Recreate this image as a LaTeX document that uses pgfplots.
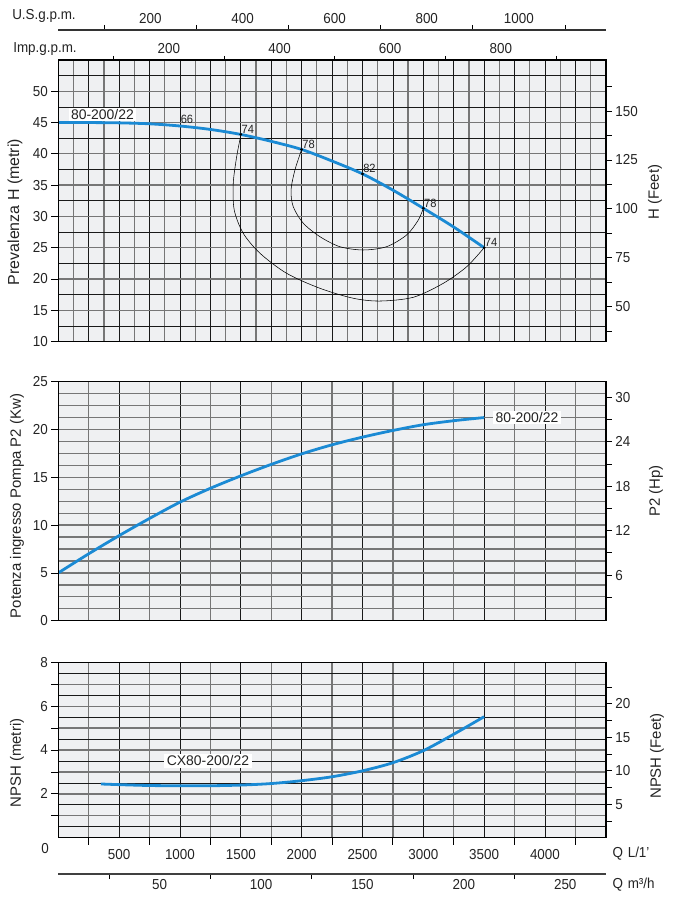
\documentclass[border=0pt]{standalone}
\usepackage{fontspec}
\setmainfont{Liberation Sans}
\newfontfamily\tickfont[FakeStretch=0.93]{Liberation Sans}
\usepackage{pgfplots}
\pgfplotsset{compat=1.18}
\definecolor{bgc}{RGB}{239,240,242}
\definecolor{curvec}{RGB}{27,138,212}
\definecolor{gdark}{RGB}{25,25,25}
\definecolor{glight}{RGB}{118,118,118}
\definecolor{txt}{RGB}{35,35,35}
\newcommand\tfont{\tickfont\fontsize{14.5}{14.5}\selectfont}
\newcommand\efont{\tickfont\fontsize{12}{12}\selectfont}
\newcommand\lfont{\fontsize{15}{15}\selectfont}
\tikzset{
  clab/.style={fill=white, inner xsep=2.5bp, inner ysep=1.5bp, text=txt, font=\fontsize{14}{14}\selectfont},
  elab/.style={anchor=south west, inner sep=0.6bp, text=txt, font=\efont},
}
\pgfplotsset{
  common/.style={scale only axis, width=547.5bp, xmin=0, xmax=4500},
  xgridax/.style={common, axis background/.style={fill=bgc},
    axis line style={draw=none},
    xticklabels={}, ytick=\empty,
    major tick length=0pt, minor tick length=0pt,
    xmajorgrids, xminorgrids,
    major grid style={gdark, line width=0.7bp},
    minor grid style={glight, line width=1.3bp}},
  ygridax/.style={common, axis line style={draw=none},
    yticklabels={}, xtick=\empty,
    major tick length=0pt, minor tick length=0pt,
    ymajorgrids, yminorgrids,
    major grid style={gdark, line width=0.7bp},
    minor grid style={glight, line width=1.3bp}},
  dataax/.style={common, xtick=\empty, ytick=\empty,
    axis line style={line width=1.4bp, black}},
  tickax/.style={scale only axis, width=547.5bp,
    tick align=outside, major tick length=7bp, minor tick length=7bp,
    tick style={black, line width=0.8bp},
    axis line style={line width=1.4bp, black},
    ticklabel style={font=\tfont, text=txt},
    /pgf/number format/assume math mode=true,
    /pgf/number format/1000 sep={},
    scaled ticks=false,
  },
  cur/.style={curvec, line width=2.8bp, smooth},
  iso/.style={black, line width=0.55bp, smooth},
}
\begin{document}
\begin{tikzpicture}
\useasboundingbox (0,0) rectangle (676bp,-900bp);

% ================= top panel: head =================
\begin{axis}[xgridax, at={(58.3bp,-60bp)}, anchor=north west, height=281.5bp,
  ymin=10, ymax=55, xtick={0,250,...,4500}, minor xtick={125,375,...,4375}]
\end{axis}
\begin{axis}[ygridax, at={(58.3bp,-60bp)}, anchor=north west, height=281.5bp,
  ymin=10, ymax=55, ytick={12.5,17.5,...,52.5}, minor ytick={10,15,...,55}]
\end{axis}
\begin{axis}[dataax, at={(58.3bp,-60bp)}, anchor=north west, height=281.5bp,
  ymin=10, ymax=55]
\addplot[iso] coordinates {(1502,43.13)(1466,39.54)(1438,35.29)(1446,31.02)(1520,27.30)(1658,24.10)(1877,20.90)(2151,18.50)(2425,16.91)(2644,16.47)(2918,17.07)(3164,19.30)(3357,21.96)(3500,25.0)};
\addplot[iso] coordinates {(2000,40.7)(1945,37.42)(1913,34.22)(1931,31.55)(2014,28.90)(2151,26.75)(2315,25.15)(2507,24.63)(2699,25.16)(2863,27.03)(2959,29.42)(3000,31.3)};
\addplot[cur] coordinates {(0,45)(250,45)(500,44.95)(750,44.8)(1000,44.45)(1250,43.9)(1500,43.1)(1750,42.0)(2000,40.7)(2250,38.85)(2500,36.8)(2750,34.2)(3000,31.3)(3250,28.3)(3500,25.0)};
\addplot[only marks, mark=*, mark size=1.2bp, black] coordinates {(1500,43.1)(2000,40.7)(2500,36.8)(3000,31.3)(3500,25.0)};
\node[elab] at (axis cs:1500,43.1) {74};
\node[elab] at (axis cs:2000,40.7) {78};
\node[elab] at (axis cs:2500,36.8) {82};
\node[elab] at (axis cs:3000,31.3) {78};
\node[elab] at (axis cs:3500,25.0) {74};
\node[elab, yshift=2bp] at (axis cs:1000,44.45) {66};
\node[clab] at (axis cs:363,46.25) {80-200/22};
\end{axis}

\begin{axis}[tickax, at={(58.3bp,-60bp)}, anchor=north west, height=281.5bp,
  xmin=0, xmax=1, ymin=10, ymax=55, axis x line=none, axis y line*=left,
  ytick={10,15,...,50}]
\end{axis}
\begin{axis}[tickax, at={(58.3bp,-60bp)}, anchor=north west, height=281.5bp,
  xmin=0, xmax=1, ymin=32.2, ymax=176.1, axis x line=none, axis y line*=right,
  ytick={50,75,...,150}, minor ytick={37.5,62.5,...,162.5},
  major tick length=6bp, minor tick length=6bp]
\end{axis}
% Imp.g.p.m.
\begin{axis}[tickax, at={(58.3bp,-60bp)}, anchor=north west, height=281.5bp,
  xmin=0, xmax=989.86, ymin=0, ymax=1, axis y line=none, axis x line*=top,
  xtick={200,400,600,800}, minor xtick={100,300,500,700,900},
  major tick length=0pt, minor tick length=4bp,
  xticklabel style={yshift=3bp}]
\end{axis}
% U.S.g.p.m.
\begin{axis}[tickax, at={(58.3bp,-30bp)}, anchor=north west, height=10bp,
  xmin=0, xmax=1188.77, ymin=0, ymax=1, axis y line=none, axis x line*=top,
  xtick={200,400,...,1000}, minor xtick={100,300,...,1100},
  major tick length=0pt, minor tick length=5bp,
  axis line style={line width=1.2bp, black!80},
  xticklabel style={yshift=3bp}]
\end{axis}

% ================= middle panel: power =================
\begin{axis}[xgridax, at={(58.3bp,-381.7bp)}, anchor=north west, height=239bp,
  ymin=0, ymax=25, xtick={0,500,...,4500}, minor xtick={250,750,...,4250}]
\end{axis}
\begin{axis}[ygridax, at={(58.3bp,-381.7bp)}, anchor=north west, height=239bp,
  ymin=0, ymax=25, ytick={0,1.25,...,25},
  major grid style={glight, line width=1.3bp}]
\end{axis}
\begin{axis}[dataax, at={(58.3bp,-381.7bp)}, anchor=north west, height=239bp,
  ymin=0, ymax=25]
\addplot[cur] coordinates {(0,5.0)(250,7.0)(500,8.9)(750,10.7)(1000,12.4)(1250,13.85)(1500,15.15)(1750,16.35)(2000,17.45)(2250,18.4)(2500,19.2)(2750,19.9)(3000,20.5)(3250,20.92)(3500,21.25)};
\node[clab] at (axis cs:3852,21.25) {80-200/22};
\end{axis}
\begin{axis}[tickax, at={(58.3bp,-381.7bp)}, anchor=north west, height=239bp,
  xmin=0, xmax=1, ymin=0, ymax=25, axis x line=none, axis y line*=left,
  ytick={0,5,...,25}]
\end{axis}
\begin{axis}[tickax, at={(58.3bp,-381.7bp)}, anchor=north west, height=239bp,
  xmin=0, xmax=1, ymin=-0.15, ymax=32.1, axis x line=none, axis y line*=right,
  ytick={6,12,...,30}, minor ytick={3,9,...,27},
  major tick length=6bp, minor tick length=6bp]
\end{axis}

% ================= bottom panel: NPSH =================
\begin{axis}[xgridax, at={(58.3bp,-662.3bp)}, anchor=north west, height=175.4bp,
  ymin=0, ymax=8, xtick={0,500,...,4500}, minor xtick={250,750,...,4250}]
\end{axis}
\begin{axis}[ygridax, at={(58.3bp,-662.3bp)}, anchor=north west, height=175.4bp,
  ymin=0, ymax=8, ytick={0.5,1.5,...,7.5}, minor ytick={0,1,...,8}]
\end{axis}
\begin{axis}[dataax, at={(58.3bp,-662.3bp)}, anchor=north west, height=175.4bp,
  ymin=0, ymax=8]
\addplot[cur] coordinates {(350,2.45)(500,2.42)(750,2.38)(1000,2.37)(1250,2.37)(1500,2.40)(1750,2.47)(2000,2.6)(2250,2.78)(2500,3.05)(2750,3.42)(3000,3.97)(3250,4.72)(3500,5.52)};
\node[clab] at (axis cs:1230,3.5) {CX80-200/22};
\end{axis}
\begin{axis}[tickax, at={(58.3bp,-662.3bp)}, anchor=north west, height=175.4bp,
  xmin=0, xmax=1, ymin=0, ymax=8, axis x line=none, axis y line*=left,
  ytick={2,4,6,8}, minor ytick={1,3,5,7}]
\end{axis}
\begin{axis}[tickax, at={(58.3bp,-662.3bp)}, anchor=north west, height=175.4bp,
  xmin=0, xmax=1, ymin=0, ymax=26.2, axis x line=none, axis y line*=right,
  ytick={5,10,15,20}, minor ytick={2.5,7.5,...,22.5},
  major tick length=6bp, minor tick length=6bp]
\end{axis}
% Q L/1'
\begin{axis}[tickax, at={(58.3bp,-662.3bp)}, anchor=north west, height=175.4bp,
  xmin=0, xmax=4500, ymin=0, ymax=1, axis y line=none, axis x line*=bottom,
  xtick={500,1000,...,4000}, minor xtick={250,750,...,4250},
  major tick length=0pt, minor tick length=7bp,
  xticklabel style={yshift=-8bp}]
\end{axis}
% Q m3/h
\begin{axis}[tickax, at={(58.3bp,-874bp)}, anchor=south west, height=10bp,
  xmin=0, xmax=270, ymin=0, ymax=1, axis y line=none, axis x line*=bottom,
  xtick={50,100,...,250}, minor xtick={25,75,...,225},
  major tick length=0pt, minor tick length=5bp,
  axis line style={line width=1.2bp, black!75},
  xticklabel style={yshift=-2bp}]
\end{axis}

% ================= titles =================
\node[font=\tfont, text=txt] at (44bp,-16bp) {U.S.g.p.m.};
\node[font=\tfont, text=txt] at (45bp,-49bp) {Imp.g.p.m.};
\node[font=\fontsize{16}{16}\selectfont, text=txt, rotate=90] at (15bp,-212bp) {Prevalenza H (metri)};
\node[font=\lfont, text=txt, rotate=90] at (17bp,-506bp) {Potenza ingresso Pompa P2 (Kw)};
\node[font=\lfont, text=txt, rotate=90] at (17bp,-763bp) {NPSH (metri)};
\node[font=\lfont, text=txt, rotate=90] at (655bp,-192bp) {H (Feet)};
\node[font=\lfont, text=txt, rotate=90] at (656bp,-491bp) {P2 (Hp)};
\node[font=\lfont, text=txt, rotate=90] at (657bp,-756bp) {NPSH (Feet)};
\node[font=\tfont, text=txt] at (45bp,-849bp) {0};
\node[font=\tfont, text=txt, anchor=west] at (609bp,-854bp) {Q\,\,L/1’};
\node[font=\tfont, text=txt, anchor=west] at (609bp,-885bp) {Q\,\,m³/h};
\end{tikzpicture}
\end{document}
